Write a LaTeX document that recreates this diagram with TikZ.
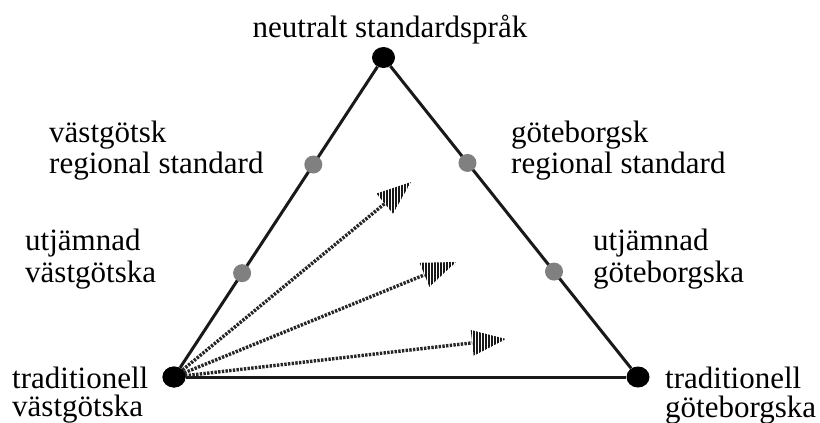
\documentclass[tikz,border=0pt]{standalone}
\usepackage{fontspec}
\setmainfont{Liberation Serif}
\usetikzlibrary{calc,patterns.meta,shapes.geometric}
\begin{document}
\begin{tikzpicture}[x=1pt,y=-1pt,
  vertex/.style={ellipse,fill=black,draw=none,minimum width=23pt,minimum height=21pt,inner sep=0},
  graydot/.style={circle,fill=black!50,draw=none,minimum size=18pt,inner sep=0},
  edge/.style={line width=3pt,black!90},
  lab/.style={anchor=base west,align=left,inner sep=0,font=\fontsize{31}{31}\selectfont},
  trend/.style={line width=3.4pt,black!85,dash pattern=on 2.4pt off 1.3pt},
  headfill/.style={pattern={Lines[angle=90,distance=3pt,line width=1.7pt]},pattern color=black!90,draw=none}]
\useasboundingbox (0,0) rectangle (820,423);
% vertices
\node[vertex] (top) at (383.5,57.5) {};
\node[vertex] (bl) at (174,377) {};
\node[vertex] (br) at (638,377) {};
% triangle edges
\draw[edge] (top) -- (bl);
\draw[edge] (top) -- (br);
\draw[edge] (bl) -- (br);
% gray dots on edges
\node[graydot] (lreg) at ($(top)!0.335!(bl)$) {};
\node[graydot] (lutj) at ($(top)!0.675!(bl)$) {};
\node[graydot] (rreg) at ($(top)!0.33!(br)$) {};
\node[graydot] (rutj) at ($(top)!0.67!(br)$) {};
% labels (anchored at the baseline of the last line)
\node[lab,anchor=base] (ltop) at (390,37) {neutralt standardspråk};
\node[lab] (llreg) at (49,173) {västgötsk\\[0pt]regional standard};
\node[lab] (lrreg) at (511,173) {göteborgsk\\[0pt]regional standard};
\node[lab] (llutj) at (25,282) {utjämnad\\[1pt]västgötska};
\node[lab] (lrutj) at (593,282) {utjämnad\\[1pt]göteborgska};
\node[lab] (lbl) at (12,416) {traditionell\\[-3pt]västgötska};
\node[lab] (lbr) at (665,417) {traditionell\\[-2pt]göteborgska};
% trend arrows
\coordinate (t1) at (411,182);
\coordinate (t2) at (456,262);
\coordinate (t3) at (506,339);
\foreach \t in {t1,t2,t3}{
  \coordinate (b\t) at ($(\t)!34pt!(bl.center)$);
  \draw[trend] (bl.center) -- (b\t);
  \path[headfill] (\t) -- ($(b\t)!13pt!90:(\t)$) -- ($(b\t)!13pt!-90:(\t)$) -- cycle;
}
\node[vertex] at (bl) {};
\end{tikzpicture}
\end{document}
